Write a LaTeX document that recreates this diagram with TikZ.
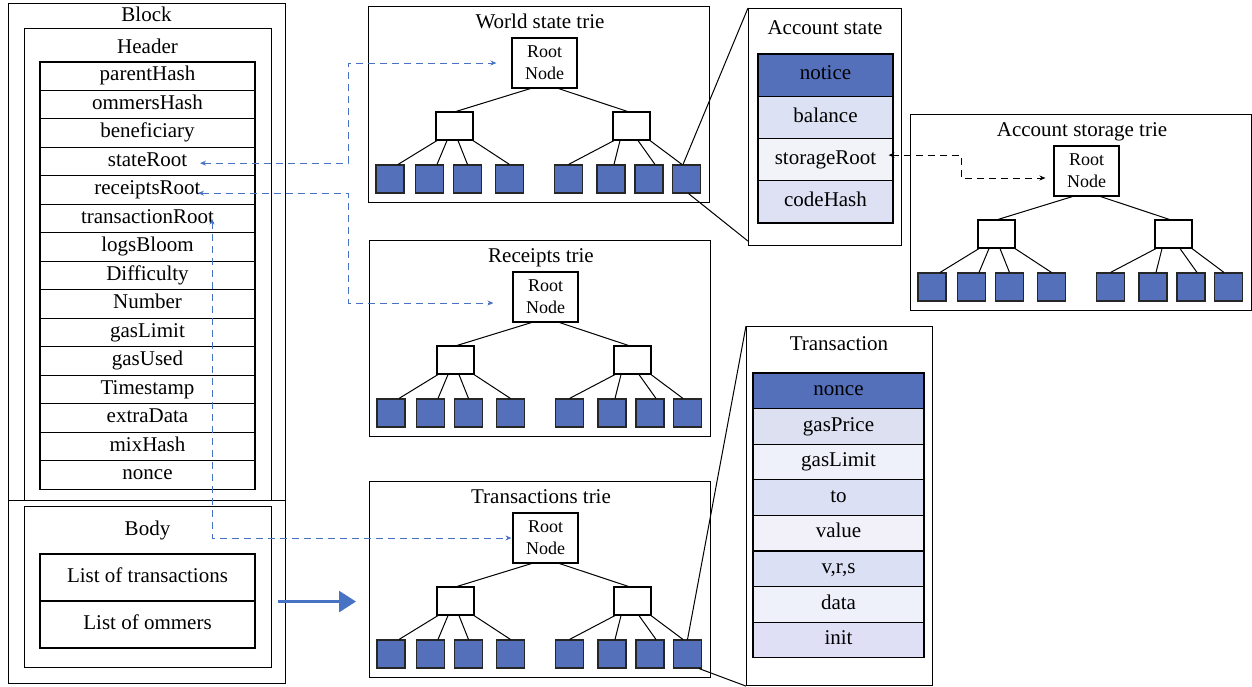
\documentclass[tikz,border=0pt]{standalone}
\usepackage{fontspec}
\setmainfont{Liberation Serif}
\usetikzlibrary{arrows.meta,calc}

\definecolor{leafblue}{RGB}{84,112,187}
\definecolor{linkblue}{RGB}{72,114,196}
\definecolor{asB}{RGB}{221,225,244}
\definecolor{asC}{RGB}{242,243,248}
\definecolor{asD}{RGB}{222,225,244}
\definecolor{txB}{RGB}{220,224,240}
\definecolor{txC}{RGB}{238,241,250}
\definecolor{txD}{RGB}{220,224,244}
\definecolor{txE}{RGB}{242,241,250}
\definecolor{txF}{RGB}{223,224,245}

\newcommand\fsMain{\fontsize{21}{24}\selectfont}
\newcommand\fsRoot{\fontsize{18}{22}\selectfont}

\tikzset{
  box/.style={draw, line width=1.1pt, anchor=north west, inner sep=0pt},
  ttl/.style={font=\fsMain, text height=14pt, text depth=4.5pt, inner sep=0pt},
  cell/.style={draw, line width=1.1pt, font=\fsMain, text height=14pt, text depth=4.5pt, inner sep=0pt},
  rootn/.style={draw, line width=1.1pt, fill=white, minimum width=65pt, minimum height=50pt, align=center, font=\fsRoot, inner sep=0pt},
  midn/.style={draw, line width=1.1pt, fill=white, minimum width=37pt, minimum height=28pt, inner sep=0pt},
  leaf/.style={draw=black!85, line width=1.1pt, fill=leafblue, minimum width=28pt, minimum height=28pt, inner sep=0pt},
  edge/.style={draw, line width=1pt},
  zoomline/.style={draw, line width=1pt},
  linkdash/.style={draw=linkblue, line width=1pt, dash pattern=on 7pt off 5pt,
    arrows={Stealth[length=6pt,width=5pt]-Stealth[length=6pt,width=5pt]}},
  blackdash/.style={draw=black, line width=1pt, dash pattern=on 7pt off 5pt,
    arrows={Stealth[length=6pt,width=5pt]-Stealth[length=6pt,width=5pt]}},
  pics/trie/.style={code={
    \node[box, minimum width=341pt, minimum height=196pt] (-box) at (0,0) {};
    \node[ttl] (-title) at (172,18) {#1};
    \node[rootn] (-root) at (176.5,57) {Root\\Node};
    \node[midn] (-m1) at (86.5,120) {};
    \node[midn] (-m2) at (263.5,120) {};
    \node[leaf] (-l1) at (22,173) {};
    \node[leaf] (-l2) at (61.5,173) {};
    \node[leaf] (-l3) at (99.5,173) {};
    \node[leaf] (-l4) at (141.5,173) {};
    \node[leaf] (-l5) at (200.5,173) {};
    \node[leaf] (-l6) at (243,173) {};
    \node[leaf] (-l7) at (281,173) {};
    \node[leaf] (-l8) at (318.5,173) {};
    \draw[edge] ([xshift=-14pt]-root.south) -- ([xshift=1.5pt]-m1.north);
    \draw[edge] ([xshift=14pt]-root.south) -- ([xshift=-4pt]-m2.north);
    \draw[edge] ([xshift=-17.5pt]-m1.south) -- ([xshift=8pt]-l1.north);
    \draw[edge] ([xshift=-7.5pt]-m1.south) -- ([xshift=7.5pt]-l2.north);
    \draw[edge] ([xshift=3.5pt]-m1.south) -- (-l3.north);
    \draw[edge] ([xshift=18.5pt]-m1.south) -- (-l4.north);
    \draw[edge] ([xshift=-17.5pt]-m2.south) -- (-l5.north);
    \draw[edge] ([xshift=-11.5pt]-m2.south) -- ([xshift=3pt]-l6.north);
    \draw[edge] ([xshift=6.5pt]-m2.south) -- ([xshift=6pt]-l7.north);
    \draw[edge] ([xshift=18.5pt]-m2.south) -- ([xshift=-4.5pt]-l8.north);
  }}
}

\begin{document}
\begin{tikzpicture}[x=1pt,y=-1pt]
\useasboundingbox (0,0) rectangle (1252,686);

% ---- Block: header and body ----
\node[box, minimum width=277pt, minimum height=497pt] (block) at (8,3) {};
\node[box, minimum width=277pt, minimum height=183pt] (blockbody) at (8,500) {};
\node[ttl] (blocktitle) at (146.5,17) {Block};
\node[box, minimum width=247pt, minimum height=472pt] (header) at (24,28) {};
\node[ttl] (headertitle) at (147.5,48.5) {Header};
\foreach \t [count=\i] in {parentHash,ommersHash,beneficiary,stateRoot,receiptsRoot,
    transactionRoot,logsBloom,Difficulty,Number,gasLimit,gasUsed,Timestamp,extraData,mixHash,nonce}
  \node[cell, minimum width=215pt, minimum height=28.47pt] (f\i) at (147.5,{62+28.47*(\i-0.5)}) {\t};

\node[box, minimum width=247pt, minimum height=161pt] (body) at (24,506) {};
\node[ttl] (bodytitle) at (147.5,531) {Body};
\node[cell, minimum width=215pt, minimum height=47pt] (lot) at (147.5,577.5) {List of transactions};
\node[cell, minimum width=215pt, minimum height=47pt] (loo) at (147.5,624.5) {List of ommers};

% ---- Tries ----
\pic (ws) at (368,6) {trie={World state trie}};
\pic (rc) at (369,240) {trie={Receipts trie}};
\pic (tt) at (369,481) {trie={Transactions trie}};
\pic (st) at (910,114) {trie={Account storage trie}};

% ---- Account state ----
\node[box, minimum width=153pt, minimum height=237pt] (as) at (748,8) {};
\node[ttl] (astitle) at (825,30) {Account state};
\foreach \t/\c [count=\i] in {notice/leafblue,balance/asB,storageRoot/asC,codeHash/asD}
  \node[cell, fill=\c, minimum width=135pt, minimum height=42.25pt] (as\i) at (825.5,{54+42.25*(\i-0.5)}) {\t};

% ---- Transaction ----
\node[box, minimum width=186pt, minimum height=359pt] (tx) at (746,326) {};
\node[ttl] (txtitle) at (839,346) {Transaction};
\foreach \t/\c [count=\i] in {nonce/leafblue,gasPrice/txB,gasLimit/txC,to/txD,value/txE,{v,r,s}/txD,data/txC,init/txF}
  \node[cell, fill=\c, minimum width=171pt, minimum height=35.6pt] (tx\i) at (838.5,{373+35.6*(\i-0.5)}) {\t};

% ---- Zoom-out lines ----
\draw[zoomline] ([xshift=-3.5pt]ws-l8.north) -- (as.north west);
\draw[zoomline] ([xshift=2pt]ws-l8.south) -- ([yshift=5pt]as.south west);
\draw[zoomline] (tt-l8.north) -- (tx.north west);
\draw[zoomline] ([xshift=-3pt]tt-l8.south east) -- (tx.south west);

% ---- Body to transactions trie ----
\coordinate (arrStart) at ([xshift=22pt]lot.south east);
\path (arrStart -| tt-box.west) ++(-13,0) coordinate (arrEnd);
\draw[draw=linkblue, line width=2.6pt, -{Triangle[length=17pt,width=21pt]}] (arrStart) -- (arrEnd);

% ---- Root links ----
\coordinate (busL) at (348,0);
\coordinate (busR) at (961,0);

\coordinate (srTip) at ([xshift=52.5pt,yshift=-1.5pt]f4.center);
\coordinate (wsIn) at ([xshift=-15pt]ws-root.west);
\draw[linkdash] (srTip) -- (srTip -| busL) |- (wsIn);

\coordinate (rrTip) at ([xshift=50.5pt,yshift=-3pt]f5.center);
\coordinate (rcIn) at ([xshift=-19pt,yshift=-6pt]rc-root.west);
\draw[linkdash] (rrTip) -- (rrTip -| busL) |- (rcIn);

\coordinate (trTip) at ([xshift=64.5pt]f6.center);
\draw[linkdash] (trTip) |- ([xshift=-1pt]tt-root.west);

\coordinate (stTip) at ([xshift=-5pt,yshift=4.5pt]as3.east);
\coordinate (stIn) at ([xshift=-8pt,yshift=-7pt]st-root.west);
\draw[blackdash] (stTip) -- (stTip -| busR) |- (stIn);
\end{tikzpicture}
\end{document}
